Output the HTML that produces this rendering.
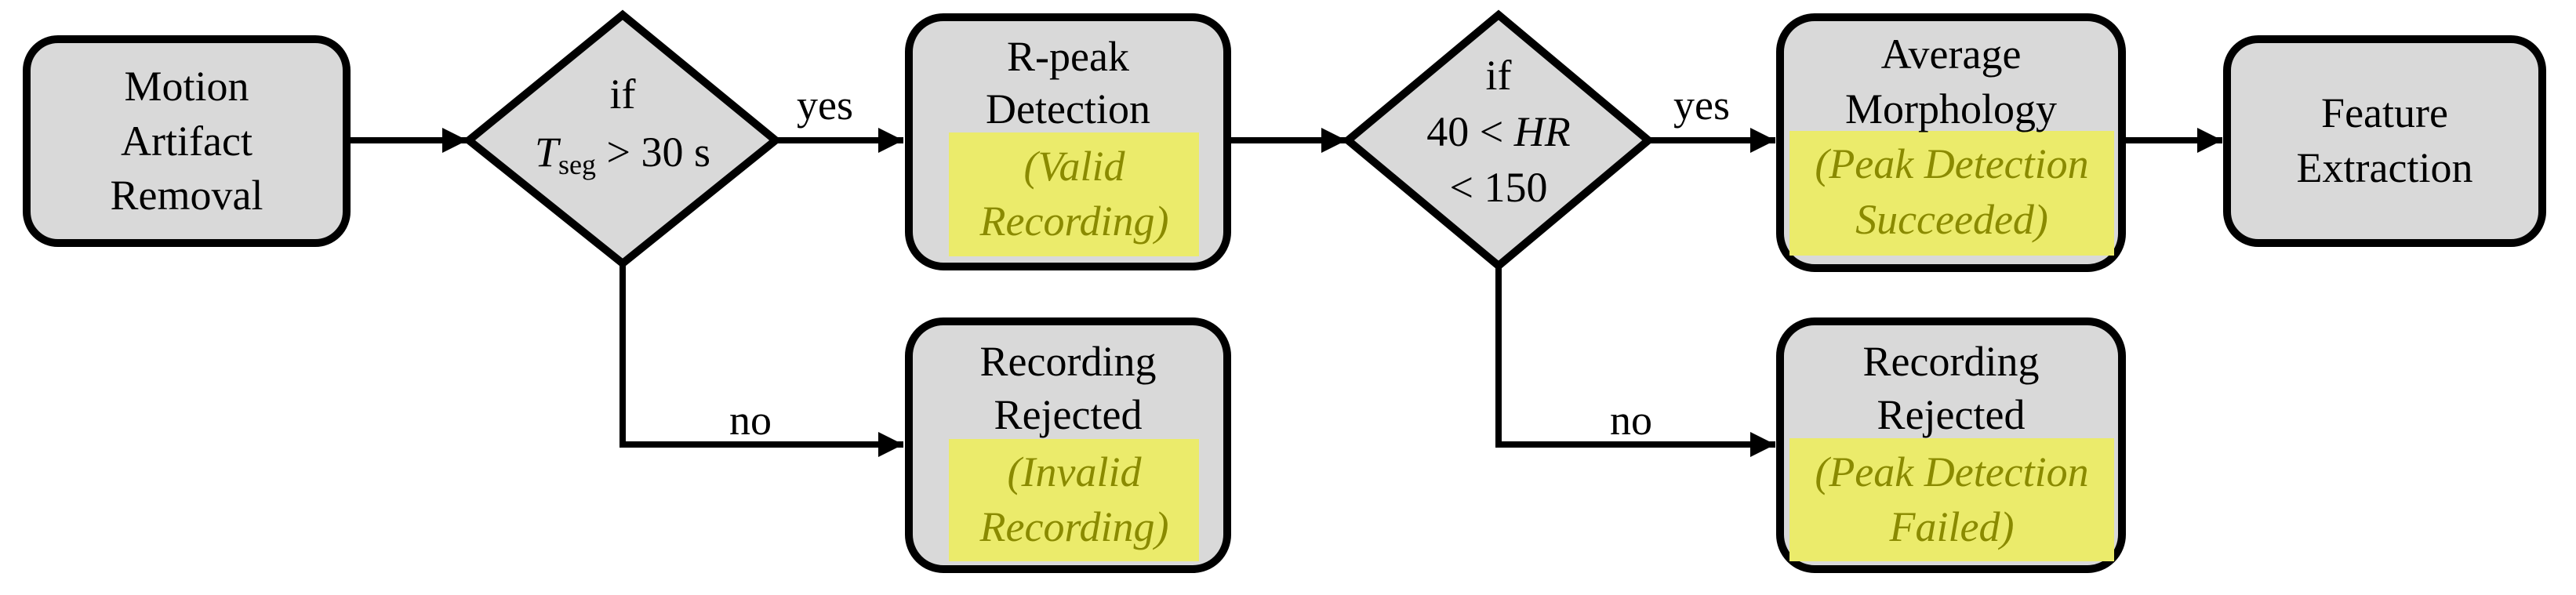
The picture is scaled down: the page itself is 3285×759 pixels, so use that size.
<!DOCTYPE html>
<html><head><meta charset="utf-8"><style>
html,body{margin:0;padding:0;background:#fff;}
svg{display:block;}
svg text{font-family:"Liberation Serif","DejaVu Serif",serif !important;font-size:54px;text-anchor:middle;fill:#000;}
svg text.y{fill:#8a8a00;font-style:italic;}
</style></head><body>
<svg width="3285" height="759" viewBox="0 0 3285 759" xmlns="http://www.w3.org/2000/svg" font-family="Liberation Serif, DejaVu Serif, serif">
<defs>
<marker id="a" markerUnits="userSpaceOnUse" markerWidth="34" markerHeight="34" refX="32" refY="16" orient="auto">
<path d="M0,0 L32,16 L0,32 Z" fill="#000"/>
</marker>
</defs>
<g stroke="#000" stroke-width="8" fill="none">
<line x1="444" y1="179" x2="596" y2="179" marker-end="url(#a)"/>
<line x1="989" y1="179" x2="1152" y2="179" marker-end="url(#a)"/>
<polyline points="794,336 794,567 1152,567" marker-end="url(#a)"/>
<line x1="1568" y1="179" x2="1717" y2="179" marker-end="url(#a)"/>
<line x1="2102" y1="179" x2="2264" y2="179" marker-end="url(#a)"/>
<polyline points="1911,339 1911,567 2264,567" marker-end="url(#a)"/>
<line x1="2710" y1="179" x2="2834" y2="179" marker-end="url(#a)"/>
</g>
<g stroke="#000" stroke-width="10" fill="#d9d9d9">
<rect x="34" y="50" width="408" height="260" rx="40"/>
<polygon points="794,19 989,179 794,336 598,179"/>
<rect x="1159" y="22" width="406" height="318" rx="44"/>
<rect x="1159" y="410" width="406" height="316" rx="44"/>
<polygon points="1911,19 2102,179 1911,339 1719,179"/>
<rect x="2270" y="22" width="436" height="320" rx="44"/>
<rect x="2270" y="410" width="436" height="316" rx="44"/>
<rect x="2840" y="50" width="402" height="260" rx="40"/>
</g>
<g fill="#ebeb6b">
<rect x="1210" y="169" width="319" height="158"/>
<rect x="1210" y="560" width="319" height="156"/>
<rect x="2282" y="167" width="414" height="159"/>
<rect x="2282" y="559" width="414" height="157"/>
</g>
<text x="238" y="128">Motion</text>
<text x="238" y="198">Artifact</text>
<text x="238" y="267">Removal</text>
<text x="794" y="138">if</text>
<text x="794" y="212"><tspan font-style="italic">T</tspan><tspan font-size="36" dy="10">seg</tspan><tspan dy="-10"> &gt; 30 s</tspan></text>
<text x="1052" y="152">yes</text>
<text x="957" y="554">no</text>
<text x="1362" y="90">R-peak</text>
<text x="1362" y="157">Detection</text>
<text class="y" x="1370" y="230">(Valid</text>
<text class="y" x="1370" y="300">Recording)</text>
<text x="1362" y="479">Recording</text>
<text x="1362" y="547">Rejected</text>
<text class="y" x="1370" y="620">(Invalid</text>
<text class="y" x="1370" y="690">Recording)</text>
<text x="1911" y="114">if</text>
<text x="1911" y="186">40 &lt; <tspan font-style="italic">HR</tspan></text>
<text x="1911" y="257">&lt; 150</text>
<text x="2170" y="152">yes</text>
<text x="2080" y="554">no</text>
<text x="2488" y="87">Average</text>
<text x="2488" y="157">Morphology</text>
<text class="y" x="2489" y="227">(Peak Detection</text>
<text class="y" x="2489" y="298">Succeeded)</text>
<text x="3041" y="162">Feature</text>
<text x="3041" y="232">Extraction</text>
<text x="2488" y="479">Recording</text>
<text x="2488" y="547">Rejected</text>
<text class="y" x="2489" y="620">(Peak Detection</text>
<text class="y" x="2489" y="690">Failed)</text>
</svg>
</body></html>
